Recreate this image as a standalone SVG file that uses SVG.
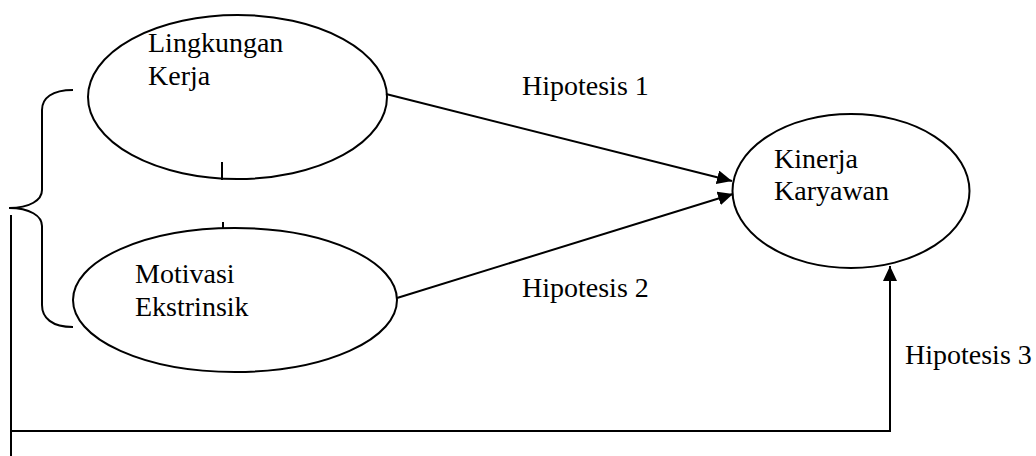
<svg xmlns="http://www.w3.org/2000/svg" width="1036" height="456" viewBox="0 0 1036 456">
<style>
.n{fill:none;stroke:#000;stroke-width:2}
.t{font-family:"Liberation Serif","Times New Roman",serif;font-size:28px;fill:#000}
.c{fill:none;stroke:#000;stroke-width:2}
</style>
<defs>
<marker id="ah" markerUnits="userSpaceOnUse" markerWidth="16" markerHeight="14" refX="15" refY="7" orient="auto">
<path d="M0,0 L15,7 L0,14 z" fill="#000"/>
</marker>
</defs>
<rect width="1036" height="456" fill="#fff"/>
<g id="node-lingkungan">
<ellipse class="n" cx="237.5" cy="97" rx="149.5" ry="82"/>
<text class="t" x="148" y="52">Lingkungan</text>
<text class="t" x="148" y="85">Kerja</text>
</g>
<g id="node-motivasi">
<ellipse class="n" cx="235" cy="300" rx="162" ry="72"/>
<text class="t" x="135" y="283">Motivasi</text>
<text class="t" x="135" y="316">Ekstrinsik</text>
</g>
<g id="node-kinerja">
<ellipse class="n" cx="851" cy="191" rx="118.5" ry="77"/>
<text class="t" x="774" y="168">Kinerja</text>
<text class="t" x="774" y="200">Karyawan</text>
</g>
<g id="connectors">
<path class="c" d="M73,90 C52,90 42,98 42,110 L42,190 C42,200 30,208 9,208 C30,208 42,216 42,226 L42,305 C42,318 52,327 73,327"/>
<line class="c" x1="222" y1="162" x2="222" y2="180"/>
<line class="c" x1="223" y1="222" x2="223" y2="228"/>
<line class="c" x1="386" y1="94" x2="732" y2="181" marker-end="url(#ah)"/>
<line class="c" x1="397" y1="298" x2="733" y2="194" marker-end="url(#ah)"/>
<polyline class="c" points="11,215 11,456"/>
<polyline class="c" points="11,431 890,431 890,266" marker-end="url(#ah)"/>
</g>
<g id="labels">
<text class="t" x="522" y="95">Hipotesis 1</text>
<text class="t" x="522" y="297">Hipotesis 2</text>
<text class="t" x="905" y="364">Hipotesis 3</text>
</g>
</svg>
